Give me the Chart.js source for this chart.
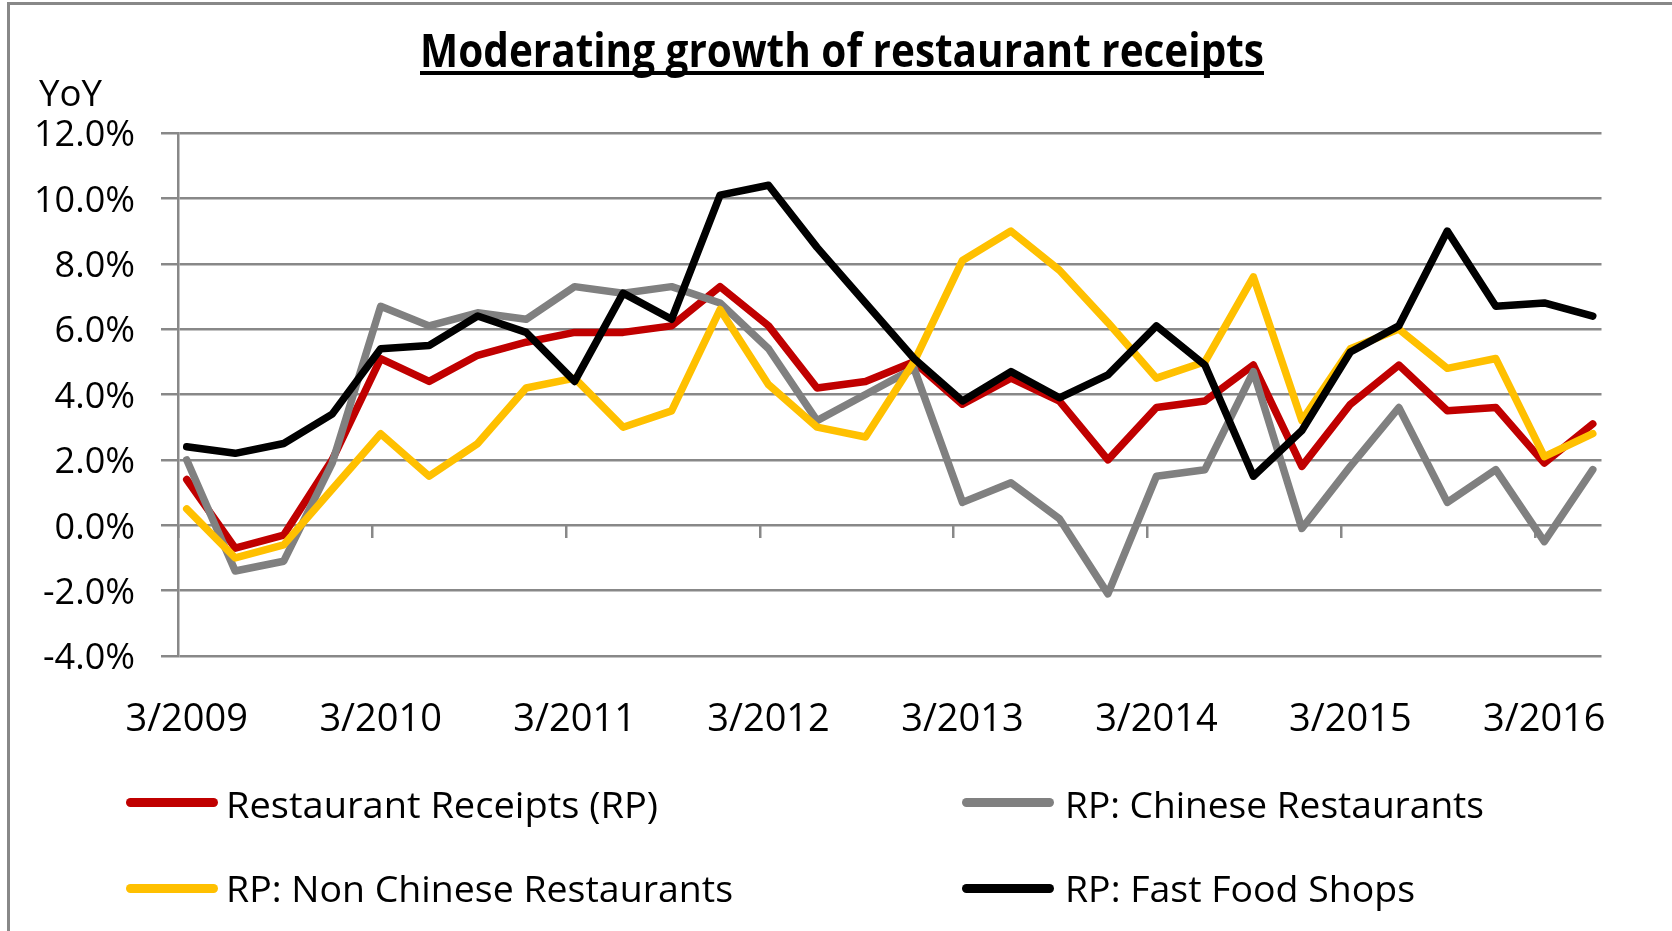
<!DOCTYPE html>
<html>
<head>
<meta charset="utf-8">
<title>Moderating growth of restaurant receipts</title>
<script src="https://cdn.jsdelivr.net/npm/chart.js@4.4.1/dist/chart.umd.min.js"></script>
<style>
  html, body { margin: 0; padding: 0; background: #fff; overflow: hidden; }
  #wrap { position: relative; width: 1672px; height: 931px; font-family: 'Open Sans', sans-serif; color: #000; }
  #frame { position: absolute; left: 7px; top: 2px; width: 1700px; height: 1000px;
           border-top: 3px solid #888; border-left: 3px solid #888; }
  #chart { position: absolute; left: 0; top: 0; }
  .txt { position: absolute; white-space: nowrap; transform-origin: left top; }
  #title { font-size: 47px; font-weight: 700; text-decoration: underline;
           text-decoration-thickness: 4px; text-underline-offset: 4px; text-decoration-skip-ink: none; }
  .lg { font-size: 36px; }
  .swatch { position: absolute; height: 9px; border-radius: 4.5px; }
</style>
</head>
<body>
<div id="wrap">
  <div id="frame"></div>
  <canvas id="chart" width="1672" height="931"></canvas>
  <div id="title" class="txt">Moderating growth of restaurant receipts</div>
  <div id="yoy" class="txt lg">YoY</div>
  <div id="legend"></div>
</div>
<script>
// quarterly, YoY %
const quarters = ['3/2009','6/2009','9/2009','12/2009','3/2010','6/2010','9/2010','12/2010',
                  '3/2011','6/2011','9/2011','12/2011','3/2012','6/2012','9/2012','12/2012',
                  '3/2013','6/2013','9/2013','12/2013','3/2014','6/2014','9/2014','12/2014',
                  '3/2015','6/2015','9/2015','12/2015','3/2016','6/2016'];

const restaurantReceipts = [1.4,-0.7,-0.3,2.0,5.1,4.4,5.2,5.6,5.9,5.9,6.1,7.3,6.1,4.2,4.4,5.0,
                            3.7,4.5,3.8,2.0,3.6,3.8,4.9,1.8,3.7,4.9,3.5,3.6,1.9,3.1];
const chineseRestaurants = [2.0,-1.4,-1.1,1.9,6.7,6.1,6.5,6.3,7.3,7.1,7.3,6.8,5.4,3.2,4.0,4.8,
                            0.7,1.3,0.2,-2.1,1.5,1.7,4.7,-0.1,1.8,3.6,0.7,1.7,-0.5,1.7];
const nonChineseRestaurants = [0.5,-1.0,-0.6,1.1,2.8,1.5,2.5,4.2,4.5,3.0,3.5,6.6,4.3,3.0,2.7,5.0,
                               8.1,9.0,7.8,6.2,4.5,5.0,7.6,3.2,5.4,6.0,4.8,5.1,2.1,2.8];
const fastFoodShops = [2.4,2.2,2.5,3.4,5.4,5.5,6.4,5.9,4.4,7.1,6.3,10.1,10.4,8.5,6.8,5.1,
                       3.8,4.7,3.9,4.6,6.1,4.9,1.5,2.9,5.3,6.1,9.0,6.7,6.8,6.4];

const seriesNames = ['Restaurant Receipts (RP)', 'RP: Chinese Restaurants',
                     'RP: Non Chinese Restaurants', 'RP: Fast Food Shops'];
const seriesValues = [restaurantReceipts, chineseRestaurants, nonChineseRestaurants, fastFoodShops];
const seriesColors = ['#C00000', '#808080', '#FFC000', '#000000'];

const yMin = -4, yMax = 12, yStep = 2;
const labelEvery = 4;     // one label per year (March)
const tickShift = 0.18;   // excel puts the year ticks a little left of the points
const edge = 0.18;

const gridColor = '#888888';

const yearIdx = quarters.map((q, i) => i).filter(i => i % labelEvery === 0);

const chart = new Chart(document.getElementById('chart'), {
    type: 'line',
    data: {
        datasets: seriesValues.map((vals, k) => ({
            label: seriesNames[k],
            data: vals.map((v, i) => ({ x: i, y: v })),
            borderColor: seriesColors[k],
            backgroundColor: seriesColors[k],
            borderWidth: 7.5,
            pointRadius: 0,
            tension: 0,
            borderJoinStyle: 'round',
            borderCapStyle: 'round',
            xAxisID: 'x',
            yAxisID: 'y',
            order: seriesValues.length - k
        }))
    },
    options: {
        responsive: false,
        animation: false,
        layout: { padding: { top: 133, left: 0, right: 70.5, bottom: 0 } },
        plugins: { legend: { display: false }, tooltip: { enabled: false }, title: { display: false } },
        scales: {
            x: {
                type: 'linear',
                min: -edge, max: quarters.length - 1 + edge,
                afterBuildTicks: s => { s.ticks = yearIdx.map(v => ({ value: v })); },
                ticks: { callback: v => quarters[v], font: { family: 'Open Sans', size: 38 }, color: '#000',
                         padding: 41, maxRotation: 0, autoSkip: false },
                grid: { display: false, drawTicks: false },
                border: { display: false },
                afterFit: s => { s.height = 931 - 656; }
            },
            xMarks: {
                type: 'linear',
                axis: 'x',
                position: { y: 0 },
                min: -edge, max: quarters.length - 1 + edge,
                afterBuildTicks: s => { s.ticks = yearIdx.map(v => ({ value: v - tickShift })); },
                ticks: { display: false },
                grid: { drawOnChartArea: false, drawTicks: true, tickLength: 13, color: gridColor, lineWidth: 2.5 },
                border: { display: false }
            },
            y: {
                min: yMin, max: yMax,
                ticks: { stepSize: yStep, callback: v => v.toFixed(1) + '%',
                         font: { family: 'Open Sans', size: 36 },
                         color: '#000', padding: 26, labelOffset: 3 },
                grid: { color: gridColor, lineWidth: 2.5, tickLength: 17 },
                border: { color: gridColor, width: 2.5 },
                afterFit: s => { s.width = 178; }
            }
        }
    }
});

// put a text element so its baseline sits at y, optionally squeezed to a width
function place(el, left, baseline, width) {
    const probe = document.createElement('span');
    probe.style.cssText = 'display:inline-block;width:0;height:0;vertical-align:baseline';
    el.appendChild(probe);
    const base = probe.offsetTop;
    el.style.left = left + 'px';
    el.style.top = (baseline - base) + 'px';
    if (width) {
        const w = el.getBoundingClientRect().width;
        el.style.transform = 'scaleX(' + (width / w) + ')';
    }
}

place(document.getElementById('title'), 420, 67, 844);
place(document.getElementById('yoy'), 39, 106, 63);

// legend: two columns, two rows
const legendSpots = [
    { lineX: 126, textX: 226, y: 802, base: 818, w: 432 },
    { lineX: 962, textX: 1065, y: 802, base: 818, w: 419 },
    { lineX: 126, textX: 226, y: 888, base: 902, w: 507 },
    { lineX: 962, textX: 1065, y: 888, base: 902, w: 350 }
];
const legend = document.getElementById('legend');
chart.data.datasets.forEach((ds, k) => {
    const s = legendSpots[k];
    const sw = document.createElement('div');
    sw.className = 'swatch';
    sw.style.left = s.lineX + 'px';
    sw.style.top = (s.y - 4.5) + 'px';
    sw.style.width = '92px';
    sw.style.background = ds.borderColor;
    legend.appendChild(sw);
    const t = document.createElement('div');
    t.className = 'txt lg';
    t.textContent = ds.label;
    legend.appendChild(t);
    place(t, s.textX, s.base, s.w);
});
</script>
</body>
</html>
